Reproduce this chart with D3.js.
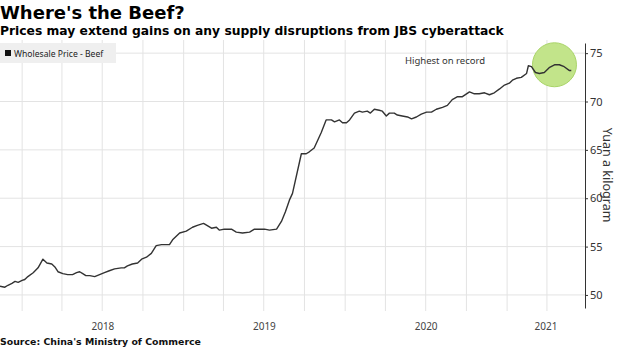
<!DOCTYPE html>
<html>
<head>
<meta charset="utf-8">
<script src="https://cdn.jsdelivr.net/npm/d3@7"></script>
<style>
  body { margin: 0; background: #fff; }
  text { font-family: "Noto Sans", "DejaVu Sans", sans-serif; }
</style>
</head>
<body>
<div id="chart"></div>
<script>
// Width and height
var chart_width  = 620;
var chart_height = 348;

// Data (wholesale beef price, yuan per kg)
var dates = [
  "2017-11-12","2017-11-23","2017-11-30","2017-12-09","2017-12-16","2017-12-23",
  "2018-01-01","2018-01-07","2018-01-14","2018-01-26","2018-02-06","2018-02-17",
  "2018-02-26","2018-03-09","2018-03-16","2018-03-23","2018-04-03","2018-04-14",
  "2018-04-25","2018-05-04","2018-05-11","2018-05-18","2018-05-25","2018-06-03",
  "2018-06-14","2018-06-25","2018-07-06","2018-07-17","2018-07-29","2018-08-13",
  "2018-08-20","2018-08-27","2018-09-07","2018-09-19","2018-09-28","2018-10-09",
  "2018-10-20","2018-10-31","2018-11-12","2018-11-30","2018-12-07","2018-12-23",
  "2019-01-07","2019-01-21","2019-02-01","2019-02-15","2019-03-05","2019-03-16",
  "2019-03-23","2019-04-03","2019-04-19","2019-04-30","2019-05-14","2019-05-30",
  "2019-06-10","2019-07-03","2019-07-14","2019-07-30","2019-08-10","2019-08-19",
  "2019-08-28","2019-09-04","2019-09-24","2019-10-05","2019-10-12","2019-10-23",
  "2019-11-08","2019-11-19","2019-12-01","2019-12-08","2019-12-19","2019-12-26",
  "2020-01-04","2020-01-11","2020-01-22","2020-02-02","2020-02-09","2020-02-20",
  "2020-02-27","2020-03-07","2020-03-18","2020-03-25","2020-04-03","2020-04-10",
  "2020-04-21","2020-04-28","2020-05-09","2020-05-21","2020-05-30","2020-06-10",
  "2020-06-21","2020-07-03","2020-07-14","2020-07-25","2020-08-08","2020-08-19",
  "2020-08-30","2020-09-11","2020-09-22","2020-10-08","2020-10-19","2020-10-30",
  "2020-11-11","2020-11-22","2020-12-03","2020-12-15","2020-12-26","2021-01-06",
  "2021-01-13","2021-01-22","2021-02-02","2021-02-14","2021-02-18","2021-02-25",
  "2021-03-06","2021-03-15","2021-03-26","2021-04-06","2021-04-18","2021-04-29",
  "2021-05-10","2021-05-22","2021-05-26"
];
var prices = [
  50.9,50.8,51.0,51.2,51.4,51.3,
  51.5,51.6,51.9,52.3,52.8,53.7,
  53.3,53.2,52.9,52.4,52.2,52.1,
  52.1,52.3,52.4,52.2,52.0,52.0,
  51.9,52.1,52.3,52.5,52.7,52.8,
  52.8,53.0,53.2,53.3,53.7,53.9,
  54.3,55.1,55.2,55.2,55.7,56.4,
  56.6,57.0,57.2,57.4,56.9,57.0,
  56.7,56.8,56.8,56.5,56.4,56.5,
  56.8,56.8,56.7,56.8,57.6,58.6,
  59.8,60.5,64.6,64.6,64.8,65.2,
  66.8,68.1,68.1,67.9,68.1,67.8,
  67.8,68.1,68.8,69.0,68.9,69.0,
  68.8,69.2,69.1,69.0,68.5,68.8,
  68.8,68.6,68.5,68.4,68.2,68.4,
  68.7,68.9,68.9,69.2,69.4,69.6,
  70.2,70.5,70.5,71.0,70.8,70.8,
  70.9,70.7,70.9,71.3,71.7,71.9,
  72.2,72.4,72.5,72.9,73.7,73.6,
  73.0,72.9,73.0,73.5,73.8,73.8,
  73.6,73.2,73.2
];
var y_ticks = [50, 55, 60, 65, 70, 75];
var years = ["2018", "2019", "2020", "2021"];

var parse = d3.timeParse("%Y-%m-%d");
var data = dates.map(function(d, i){
  return { date: parse(d), value: prices[i] };
});

// Scales
var x = d3.scaleTime()
  .domain([parse("2017-11-12"), parse("2021-06-26")])
  .range([0, 585]);

var y = d3.scaleLinear()
  .domain([48.65, 76.05])
  .range([308, 43]);

// Create SVG
var svg = d3.select("#chart")
  .append("svg")
  .attr("width", chart_width)
  .attr("height", chart_height);

// Titles
svg.append("text")
  .attr("x", 0).attr("y", 19)
  .style("font-family", "'DejaVu Sans', sans-serif")
  .style("font-weight", "bold")
  .style("font-size", "18px")
  .attr("fill", "#000")
  .text("Where's the Beef?");

svg.append("text")
  .attr("x", 0).attr("y", 35)
  .style("font-family", "'DejaVu Sans', sans-serif")
  .style("font-weight", "bold")
  .style("font-size", "12.3px")
  .attr("fill", "#000")
  .text("Prices may extend gains on any supply disruptions from JBS cyberattack");

// Gridlines - quarterly verticals
var quarters = d3.timeMonth.every(3).range(parse("2017-10-01"), parse("2021-07-01"))
  .filter(function(d){ return x(d) >= 0 && x(d) < 585; });

svg.append("g")
  .selectAll("line")
  .data(quarters)
  .enter()
  .append("line")
  .attr("x1", function(d){ return x(d); })
  .attr("x2", function(d){ return x(d); })
  .attr("y1", 40)
  .attr("y2", 311)
  .attr("stroke", "#e3e3e3")
  .attr("stroke-width", 1);

svg.append("g")
  .selectAll("line")
  .data(y_ticks)
  .enter()
  .append("line")
  .attr("x1", 0)
  .attr("x2", 585)
  .attr("y1", function(d){ return y(d); })
  .attr("y2", function(d){ return y(d); })
  .attr("stroke", "#e3e3e3")
  .attr("stroke-width", 1);

// Legend
svg.append("rect")
  .attr("x", 0).attr("y", 43)
  .attr("width", 116).attr("height", 20)
  .attr("fill", "#efefef");
svg.append("rect")
  .attr("x", 5).attr("y", 50)
  .attr("width", 6).attr("height", 6)
  .attr("fill", "#111");
svg.append("text")
  .attr("x", 14).attr("y", 56.5)
  .style("font-size", "8.6px")
  .attr("fill", "#222")
  .text("Wholesale Price - Beef");

// Highlight circle
svg.append("circle")
  .attr("cx", x(parse("2021-04-18")))
  .attr("cy", y(73.8))
  .attr("r", 22)
  .attr("fill", "#c2e48a")
  .attr("stroke", "#a9d468")
  .attr("stroke-width", 1);

svg.append("text")
  .attr("x", 445).attr("y", 64)
  .attr("text-anchor", "middle")
  .style("font-size", "9.5px")
  .attr("fill", "#333")
  .text("Highest on record");

// Line
var line = d3.line()
  .x(function(d){ return x(d.date); })
  .y(function(d){ return y(d.value); });

svg.append("path")
  .datum(data)
  .attr("d", line)
  .attr("fill", "none")
  .attr("stroke", "#333")
  .attr("stroke-width", 1.4)
  .attr("stroke-linejoin", "round");

// Y axis (right)
var y_axis = d3.axisRight(y)
  .tickValues(y_ticks)
  .tickSize(3)
  .tickPadding(2)
  .tickSizeOuter(0);

var gy = svg.append("g")
  .attr("transform", "translate(585,0)")
  .call(y_axis);
gy.select(".domain").attr("stroke", "#333");
gy.selectAll(".tick line").attr("stroke", "#333");
gy.selectAll(".tick text")
  .style("font-family", "'Noto Sans', sans-serif")
  .style("font-size", "11px")
  .attr("fill", "#333");

svg.append("text")
  .attr("transform", "translate(603,175) rotate(90)")
  .attr("text-anchor", "middle")
  .style("font-size", "12.5px")
  .attr("fill", "#333")
  .text("Yuan a kilogram");

// Year labels
svg.append("g")
  .selectAll("text")
  .data(years)
  .enter()
  .append("text")
  .attr("x", function(d){
    var a = x(parse(d + "-01-01"));
    var b = Math.min(x(parse((+d + 1) + "-01-01")), 585);
    return (a + b) / 2;
  })
  .attr("y", 330)
  .attr("text-anchor", "middle")
  .style("font-size", "10px")
  .attr("fill", "#444")
  .text(function(d){ return d; });

// Source
svg.append("text")
  .attr("x", 0).attr("y", 345)
  .style("font-family", "'DejaVu Sans', sans-serif")
  .style("font-weight", "bold")
  .style("font-size", "9.4px")
  .attr("fill", "#111")
  .text("Source: China's Ministry of Commerce");
</script>
</body>
</html>
